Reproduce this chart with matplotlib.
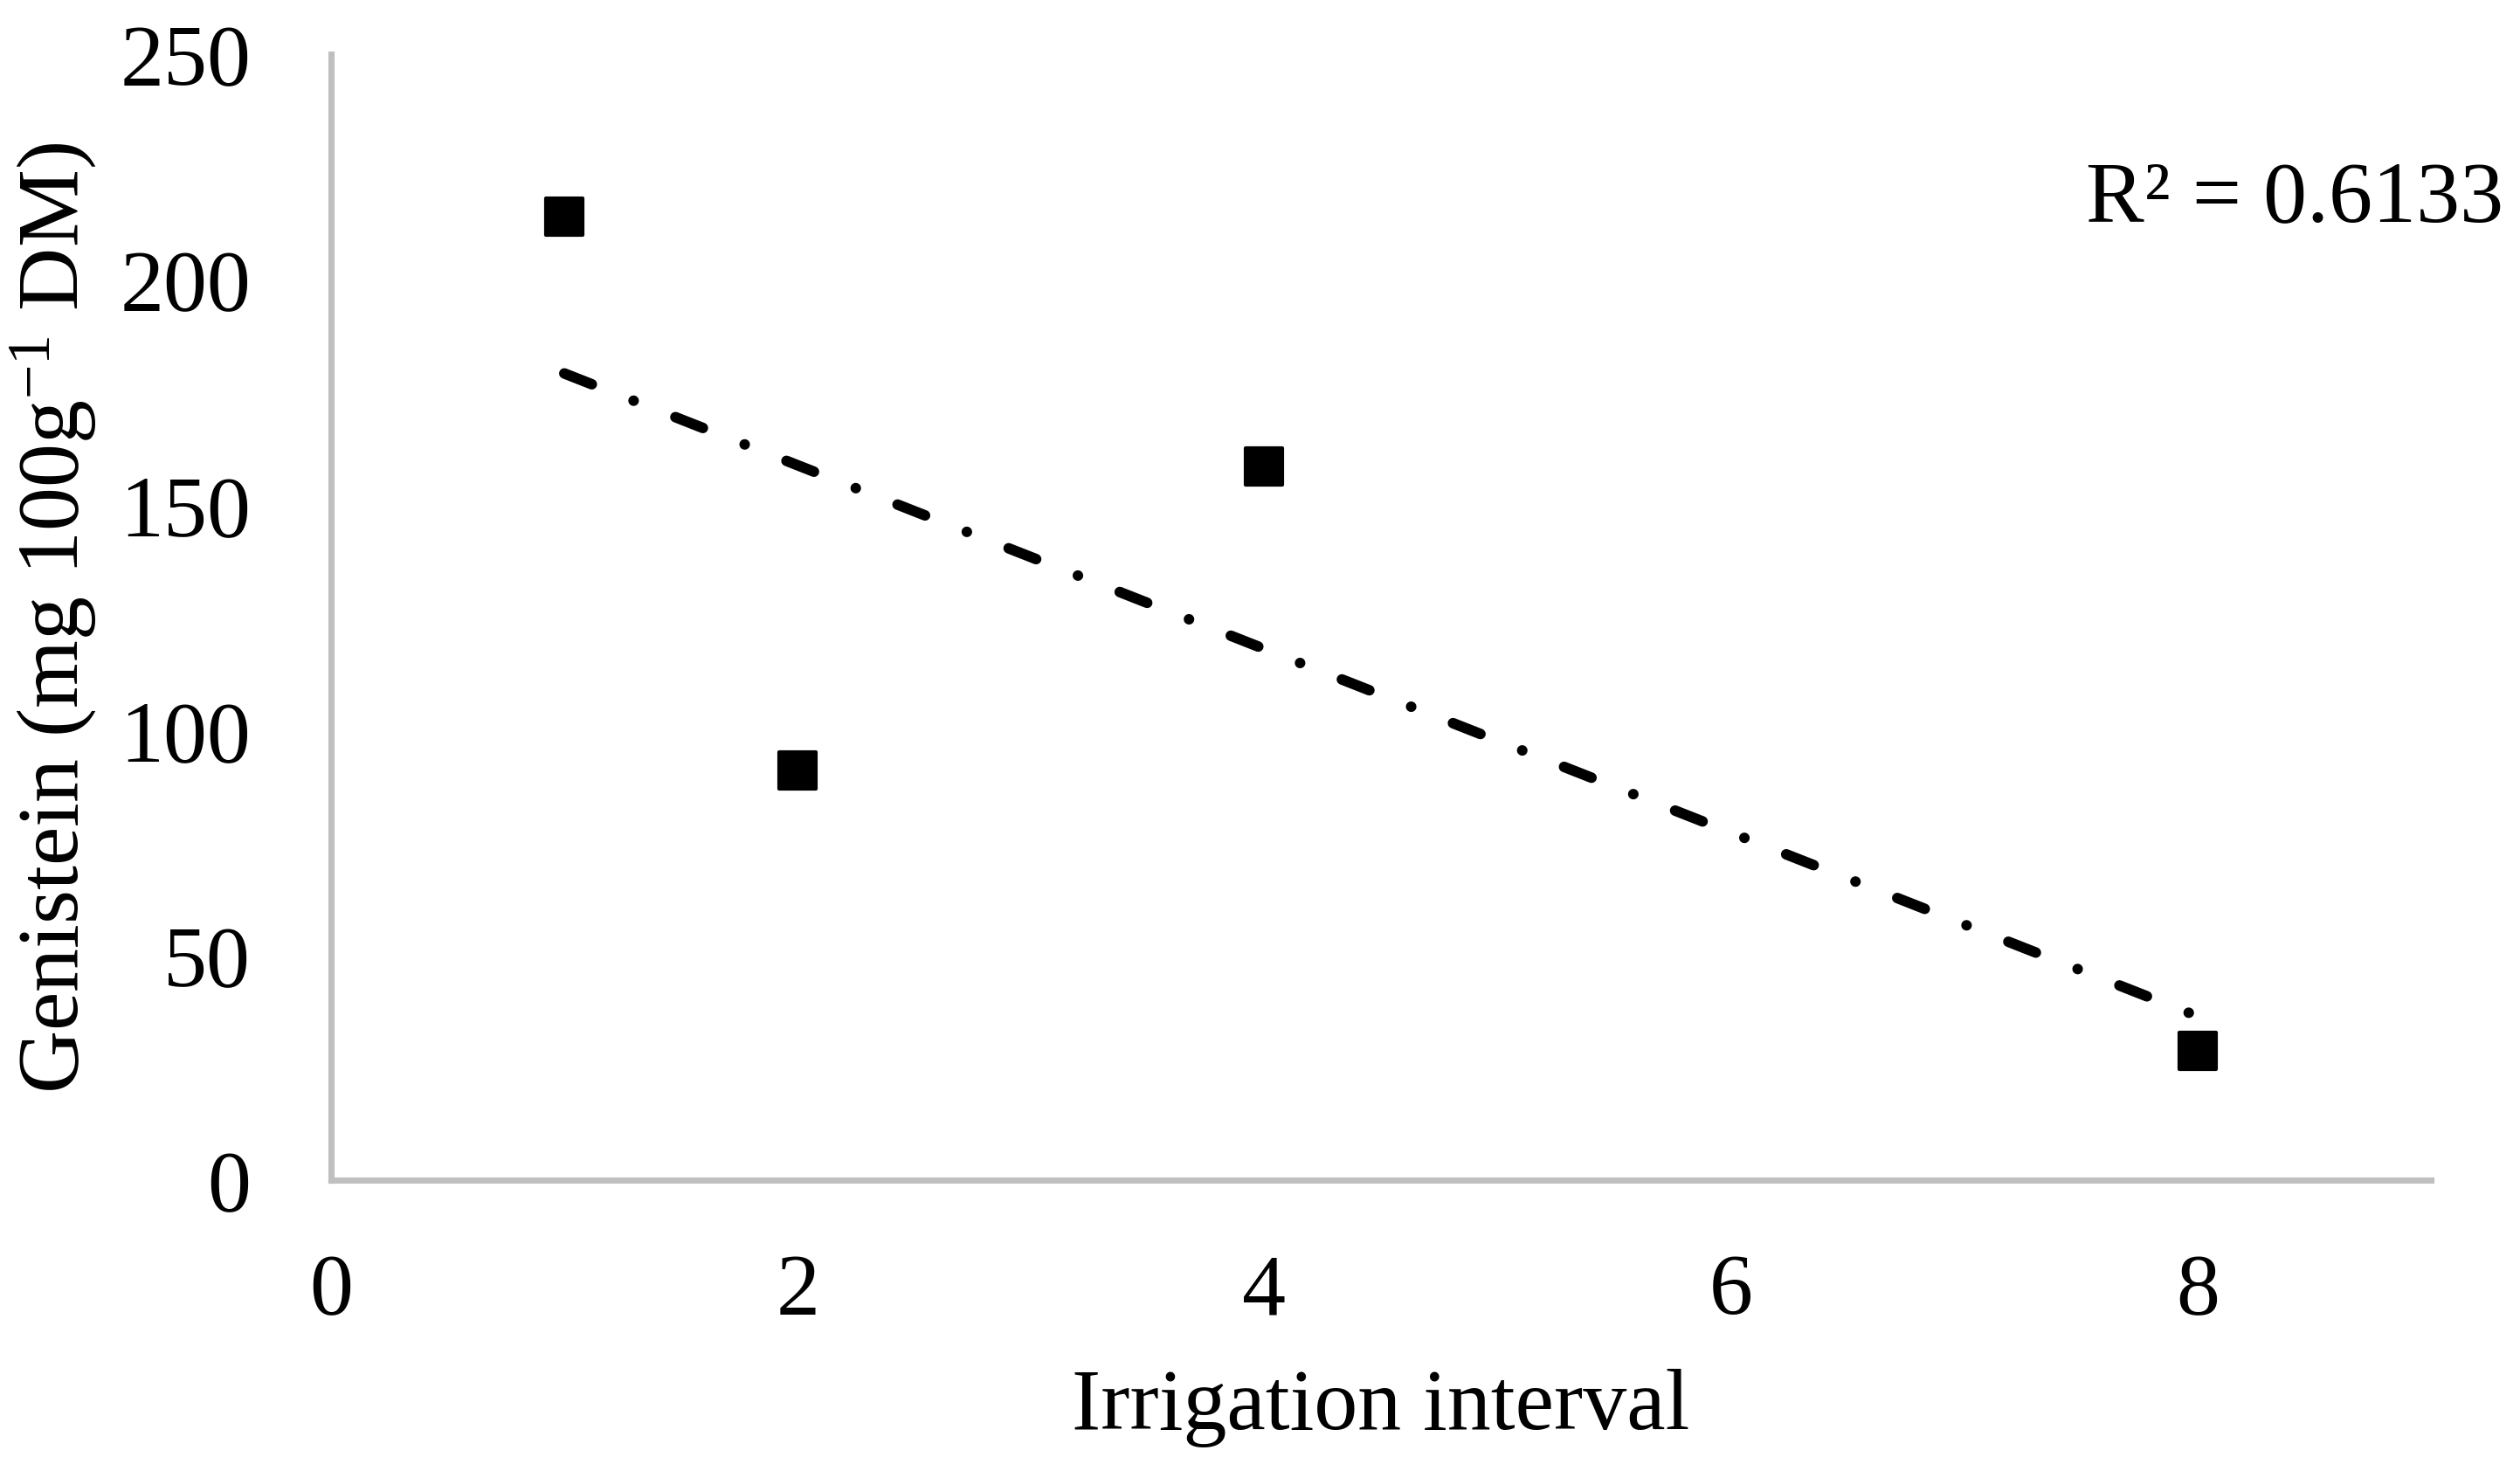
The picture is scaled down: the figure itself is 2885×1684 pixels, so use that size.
import numpy as np
import matplotlib
matplotlib.use('Agg')
import matplotlib.pyplot as plt

plt.rcParams['font.family'] = ['Liberation Serif', 'DejaVu Serif']
plt.rcParams['mathtext.fontset'] = 'custom'
plt.rcParams['mathtext.rm'] = 'Liberation Serif'
plt.rcParams['mathtext.it'] = 'Liberation Serif:italic'

# Daten
interval = [1, 2, 4, 8]
genistein = [214, 91, 158.5, 28.7]
r2_text = 'R² = 0.6133'
x_ticks = [0, 2, 4, 6, 8]
y_ticks = [0, 50, 100, 150, 200, 250]

# linearer Trend
k, n = np.polyfit(interval, genistein, 1)
x_fit = np.array([min(interval), max(interval)])
y_fit = k * x_fit + n

fig = plt.figure(figsize=(2886 / 300, 1685 / 300), dpi=300)
ax = fig.add_axes([0.1313, 0.1976, 0.833, 0.765])

ax.plot(x_fit, y_fit, color='black', lw=2.9, dash_capstyle='round',
        dashes=(2.8, 4.25, 0.01, 4.25))
ax.scatter(interval, genistein, marker='s', s=100, color='black', zorder=3)

ax.set_xlim(0, 9)
ax.set_ylim(0, 250)
ax.set_xticks(x_ticks)
ax.set_yticks(y_ticks)
ax.tick_params(length=0, labelsize=24)
ax.tick_params(axis='y', pad=22)
ax.tick_params(axis='x', pad=20)

for s in ['top', 'right']:
    ax.spines[s].set_visible(False)
for s in ['left', 'bottom']:
    ax.spines[s].set_color('#BFBFBF')
    ax.spines[s].set_linewidth(1.7)

ax.set_xlabel('Irrigation interval', fontsize=24, labelpad=10)
ax.set_ylabel(r'Genistein (mg 100g$^{\mathregular{-1}}$ DM)', fontsize=24, labelpad=6)

fig.text(0.993, 0.85, r2_text, fontsize=24, ha='right', va='baseline')

fig.savefig('out.png', dpi=300)
